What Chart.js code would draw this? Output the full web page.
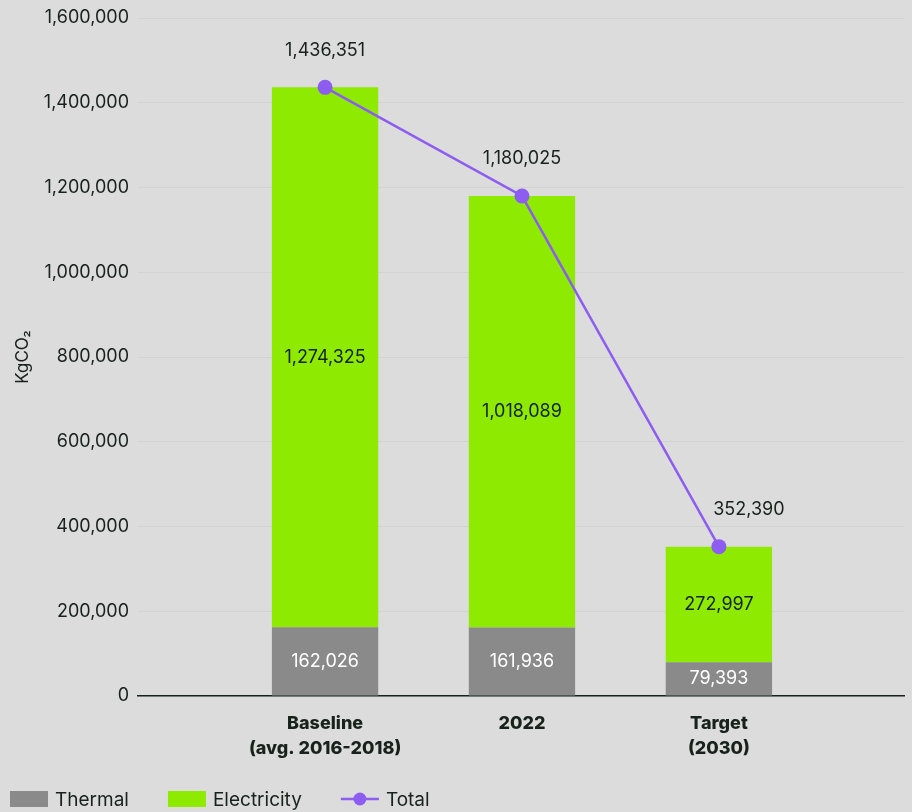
<!DOCTYPE html>
<html>
<head>
<meta charset="utf-8">
<script src="https://cdn.jsdelivr.net/npm/chart.js@4/dist/chart.umd.min.js"></script>
<style>
  html, body { margin: 0; padding: 0; background: #dcdcdc; }
  #wrap { width: 912px; height: 812px; }
</style>
</head>
<body>
<div id="wrap"><canvas id="c" width="912" height="812"></canvas></div>
<script>
const categories = [['Baseline', '(avg. 2016-2018)'], ['2022'], ['Target', '(2030)']];
const thermal = [162026, 161936, 79393];
const electricity = [1274325, 1018089, 272997];
const total = [1436351, 1180025, 352390];
const seriesNames = ['Thermal', 'Electricity', 'Total'];

const C_THERMAL = '#8a8a8a';
const C_ELEC = '#8eea00';
const C_TOTAL = '#8d5cf0';
const C_TEXT = '#17221d';
const FONT = 'Inter, "Liberation Sans", sans-serif';

const fmt = v => v.toLocaleString('en-US');
const toXY = arr => arr.map((v, i) => ({ x: i, y: v }));

const labelPlugin = {
  id: 'valueLabels',
  afterDatasetsDraw(chart) {
    const ctx = chart.ctx;
    ctx.save();
    ctx.font = '18px ' + FONT;
    ctx.textAlign = 'center';
    ctx.textBaseline = 'middle';
    chart.data.datasets.forEach((ds, di) => {
      const meta = chart.getDatasetMeta(di);
      meta.data.forEach((el, i) => {
        const v = ds.data[i].y;
        if (ds.type === 'line') {
          const dx = i === ds.data.length - 1 ? 30 : 0;
          ctx.fillStyle = C_TEXT;
          ctx.fillText(fmt(v), el.x + dx, el.y - 37);
        } else {
          const cy = (el.y + el.base) / 2;
          ctx.fillStyle = ds.labelColor;
          ctx.fillText(fmt(v), el.x, cy);
        }
      });
    });
    ctx.restore();
  }
};

const legendPlugin = {
  id: 'customLegend',
  afterDraw(chart) {
    const ctx = chart.ctx;
    ctx.save();
    ctx.font = '19px ' + FONT;
    ctx.textBaseline = 'middle';
    ctx.textAlign = 'left';
    const cy = 799;
    let x = 10;
    const colors = [C_THERMAL, C_ELEC, C_TOTAL];
    seriesNames.forEach((name, i) => {
      if (i < 2) {
        ctx.fillStyle = colors[i];
        ctx.fillRect(x, cy - 8, 38, 16);
      } else {
        ctx.strokeStyle = colors[i];
        ctx.lineWidth = 2.5;
        ctx.beginPath();
        ctx.moveTo(x, cy);
        ctx.lineTo(x + 38, cy);
        ctx.stroke();
        ctx.fillStyle = colors[i];
        ctx.beginPath();
        ctx.arc(x + 19, cy, 6.5, 0, Math.PI * 2);
        ctx.fill();
      }
      x += 38 + 7;
      ctx.fillStyle = C_TEXT;
      ctx.fillText(name, x, cy + 1);
      x += ctx.measureText(name).width + 39;
    });
    ctx.restore();
  }
};

const bgPlugin = {
  id: 'bg',
  beforeDraw(chart) {
    const ctx = chart.ctx;
    ctx.save();
    ctx.fillStyle = '#dcdcdc';
    ctx.fillRect(0, 0, chart.width, chart.height);
    ctx.restore();
  }
};

new Chart(document.getElementById('c'), {
  type: 'bar',
  data: {
    datasets: [
      {
        type: 'line',
        label: seriesNames[2],
        data: toXY(total),
        borderColor: C_TOTAL,
        backgroundColor: C_TOTAL,
        borderWidth: 2.5,
        pointRadius: 7.5,
        pointHoverRadius: 7.5,
        pointBackgroundColor: C_TOTAL,
        pointBorderWidth: 0,
        order: 0
      },
      {
        label: seriesNames[0],
        data: toXY(thermal),
        backgroundColor: C_THERMAL,
        labelColor: '#ffffff',
        borderWidth: 0,
        categoryPercentage: 1,
        barPercentage: 0.54,
        order: 1
      },
      {
        label: seriesNames[1],
        data: toXY(electricity),
        backgroundColor: C_ELEC,
        labelColor: C_TEXT,
        borderWidth: 0,
        categoryPercentage: 1,
        barPercentage: 0.54,
        order: 1
      }
    ]
  },
  options: {
    responsive: false,
    animation: false,
    events: [],
    layout: { padding: { top: 11, right: 8, bottom: 0, left: 0 } },
    plugins: {
      legend: { display: false },
      tooltip: { enabled: false }
    },
    scales: {
      x: {
        type: 'linear',
        stacked: true,
        offset: false,
        min: -0.95,
        max: 2.94,
        afterBuildTicks: s => { s.ticks = categories.map((_, i) => ({ value: i })); },
        afterFit: s => { s.height = 116; },
        grid: { display: false },
        border: { display: true, color: C_TEXT, width: 1.5 },
        ticks: {
          autoSkip: false,
          maxRotation: 0,
          padding: 7,
          color: C_TEXT,
          font: { family: FONT, size: 18, weight: 800, lineHeight: 1.4 },
          callback: v => categories[v]
        }
      },
      y: {
        stacked: true,
        min: 0,
        max: 1600000,
        afterFit: s => { s.width = 138; },
        border: { display: false },
        grid: { color: '#d2d2d2', lineWidth: 1, drawTicks: false },
        ticks: {
          stepSize: 200000,
          padding: 9,
          color: C_TEXT,
          font: { family: FONT, size: 18, lineHeight: 1 },
          callback: v => fmt(v)
        },
        title: {
          display: true,
          text: 'KgCO₂',
          color: C_TEXT,
          font: { family: FONT, size: 17 },
          padding: { top: 13, bottom: 0 }
        }
      }
    }
  },
  plugins: [bgPlugin, labelPlugin, legendPlugin]
});
</script>
</body>
</html>
